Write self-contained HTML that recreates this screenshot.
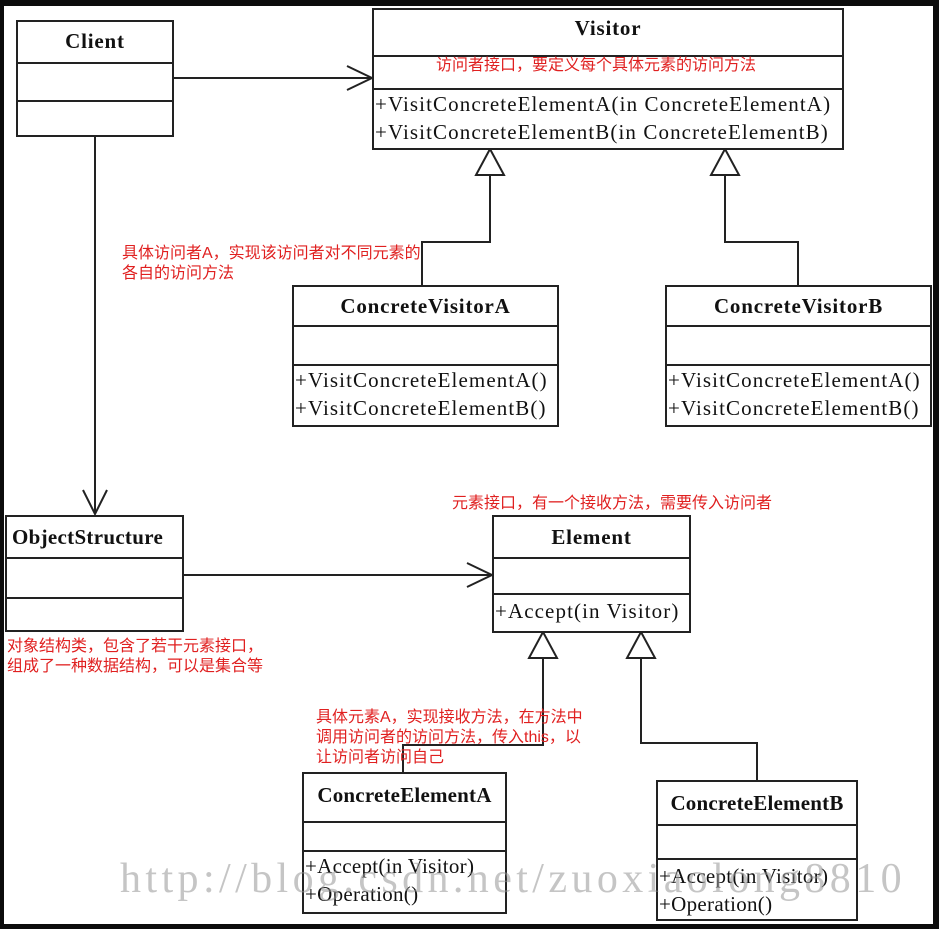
<!DOCTYPE html>
<html><head><meta charset="utf-8"><style>
body{margin:0;width:939px;height:929px;background:#0c0c0c;overflow:hidden}
#w{position:absolute;left:4px;top:6px;width:929px;height:918px;background:#fff}
.b{position:absolute;border:2px solid #222;background:#fff;box-sizing:border-box;font-family:"Liberation Serif",serif;color:#111}
.t{font-weight:bold;font-size:21px;letter-spacing:0.8px;text-align:center}
.d{position:absolute;left:0;right:0;border-top:2px solid #222}
.m{position:absolute;left:1px;font-size:21px;letter-spacing:1.1px;line-height:28px;white-space:nowrap}
.r{position:absolute;color:#e02020;font-family:"Liberation Sans","Noto Sans CJK SC",sans-serif;font-size:16px;line-height:20px;white-space:nowrap}
svg{position:absolute;left:0;top:0}
</style></head><body><div id="w"></div>
<svg width="939" height="929">
<g stroke="#222" stroke-width="2" fill="none">
<line x1="173" y1="78" x2="373" y2="78"/><polyline points="347,66 372,78 347,90"/>
<line x1="95" y1="136" x2="95" y2="514"/><polyline points="83,490 95,514 107,490"/>
<line x1="183" y1="575" x2="493" y2="575"/><polyline points="467,563 492,575 467,587"/>
<polygon points="490,149 476,175 504,175" fill="#fff"/><polyline points="490,175 490,242 422,242 422,285"/>
<polygon points="725,149 711,175 739,175" fill="#fff"/><polyline points="725,175 725,242 798,242 798,285"/>
<polygon points="543,632 529,658 557,658" fill="#fff"/><polyline points="543,658 543,745 403,745 403,772"/>
<polygon points="641,632 627,658 655,658" fill="#fff"/><polyline points="641,658 641,743 757,743 757,780"/>
</g></svg>
<div class="b" style="left:16px;top:20px;width:158px;height:117px"><div class="t" style="margin-top:7px">Client</div><div class="d" style="top:40px"></div><div class="d" style="top:78px"></div></div>
<div class="b" style="left:372px;top:8px;width:472px;height:142px"><div class="t" style="margin-top:6px">Visitor</div><div class="d" style="top:45px"></div><div class="d" style="top:78px"></div><div class="m" style="top:80px">+VisitConcreteElementA(in ConcreteElementA)<br>+VisitConcreteElementB(in ConcreteElementB)</div></div>
<div class="b" style="left:292px;top:285px;width:267px;height:142px"><div class="t" style="margin-top:7px">ConcreteVisitorA</div><div class="d" style="top:38px"></div><div class="d" style="top:77px"></div><div class="m" style="top:79px">+VisitConcreteElementA()<br>+VisitConcreteElementB()</div></div>
<div class="b" style="left:665px;top:285px;width:267px;height:142px"><div class="t" style="margin-top:7px">ConcreteVisitorB</div><div class="d" style="top:38px"></div><div class="d" style="top:77px"></div><div class="m" style="top:79px">+VisitConcreteElementA()<br>+VisitConcreteElementB()</div></div>
<div class="b" style="left:5px;top:515px;width:179px;height:117px"><div class="t" style="margin-top:8px;text-align:left;padding-left:5px;letter-spacing:0.3px">ObjectStructure</div><div class="d" style="top:40px"></div><div class="d" style="top:80px"></div></div>
<div class="b" style="left:492px;top:515px;width:199px;height:118px"><div class="t" style="margin-top:8px">Element</div><div class="d" style="top:40px"></div><div class="d" style="top:76px"></div><div class="m" style="top:80px">+Accept(in Visitor)</div></div>
<div class="b" style="left:302px;top:772px;width:205px;height:142px"><div class="t" style="margin-top:9px;letter-spacing:0.2px">ConcreteElementA</div><div class="d" style="top:47px"></div><div class="d" style="top:76px"></div><div class="m" style="top:78px;letter-spacing:0.3px">+Accept(in Visitor)<br>+Operation()</div></div>
<div class="b" style="left:656px;top:780px;width:202px;height:141px"><div class="t" style="margin-top:9px;letter-spacing:0.2px">ConcreteElementB</div><div class="d" style="top:42px"></div><div class="d" style="top:76px"></div><div class="m" style="top:80px;letter-spacing:0.3px">+Accept(in Visitor)<br>+Operation()</div></div>
<div style="position:absolute;left:120px;top:855px;font-family:'Liberation Serif',serif;font-size:42px;color:rgba(150,150,150,0.55);white-space:nowrap;letter-spacing:4.4px">http://blog.csdn.net/zuoxiaolong8810</div>
<div class="r" style="left:436px;top:56px">访问者接口，要定义每个具体元素的访问方法</div>
<div class="r" style="left:122px;top:244px">具体访问者A，实现该访问者对不同元素的<br>各自的访问方法</div>
<div class="r" style="left:452px;top:494px">元素接口，有一个接收方法，需要传入访问者</div>
<div class="r" style="left:7px;top:637px">对象结构类，包含了若干元素接口，<br>组成了一种数据结构，可以是集合等</div>
<div class="r" style="left:316px;top:708px">具体元素A，实现接收方法，在方法中<br>调用访问者的访问方法，传入this，以<br>让访问者访问自己</div>
</body></html>
